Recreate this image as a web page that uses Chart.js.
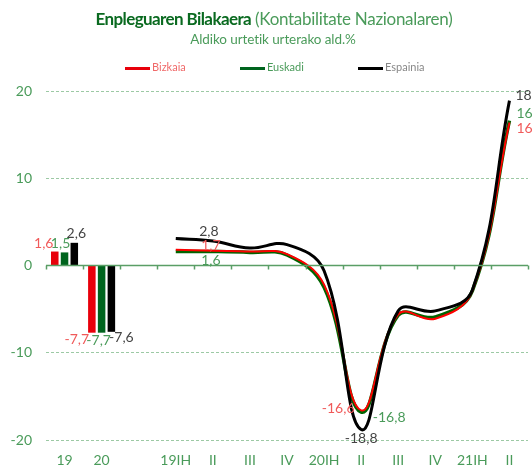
<!DOCTYPE html>
<html>
<head>
<meta charset="utf-8">
<script src="https://cdn.jsdelivr.net/npm/chart.js@4/dist/chart.umd.min.js"></script>
<style>
  body { margin: 0; background: #fff; font-family: 'Lato', sans-serif; }
  .wrap { position: relative; width: 532px; height: 467px; }
  canvas { position: absolute; left: 0; top: 0; }
  .title { position: absolute; top: 8px; left: 0; width: 548px; text-align: center; font-size: 17px; color: #4a9b5a; letter-spacing: -0.3px; white-space: nowrap; }
  .title b { color: #0a6a20; font-weight: 700; letter-spacing: -0.6px; }
  .sub { position: absolute; top: 31px; left: 0; width: 546px; text-align: center; font-size: 13.5px; color: #4a9b5a; letter-spacing: -0.1px; }
  .leg { position: absolute; top: 60px; font-size: 11px; white-space: nowrap; }
  .leg i { display: inline-block; width: 25px; height: 3px; vertical-align: middle; margin-right: 2px; }
</style>
</head>
<body>
<div class="wrap">
  <canvas id="chart" width="532" height="467"></canvas>
  <div class="title"><b>Enpleguaren Bilakaera</b> (Kontabilitate Nazionalaren)</div>
  <div class="sub">Aldiko urtetik urterako ald.%</div>
  <div class="leg" style="left:125px;color:#f06a6a"><i style="background:#e8000b"></i>Bizkaia</div>
  <div class="leg" style="left:240px;color:#4a9b5a"><i style="background:#00641e"></i>Euskadi</div>
  <div class="leg" style="left:358px;color:#888"><i style="background:#000"></i>Espainia</div>
</div>
<script>
// ── DATA ──
const years = ['19', '20'];
const quarters = ['19IH', 'II', 'III', 'IV', '20IH', 'II', 'III', 'IV', '21IH', 'II'];
const bizkaiaYear = [1.6, -7.7];
const euskadiYear = [1.5, -7.7];
const espainiaYear = [2.6, -7.6];
const bizkaiaQ = [1.8, 1.7, 1.6, 1.3, -2.2, -16.6, -5.6, -6.1, -2.9, 16.4];
const euskadiQ = [1.6, 1.6, 1.5, 1.2, -2.5, -16.8, -5.7, -5.9, -2.9, 16.6];
const espainiaQ = [3.1, 2.8, 2.0, 2.4, -0.6, -18.8, -5.2, -5.2, -2.8, 18.9];
const yTicks = [-20, -10, 0, 10, 20];

const labels = [...years, '', ...quarters];
const nY = years.length + 1;
const barData = arr => [...arr, ...Array(labels.length - arr.length).fill(null)];
const lineData = arr => [...Array(nY).fill(null), ...arr];

const RED = '#e8000b', GREEN = '#00641e', BLACK = '#000';
const axisGreen = '#4a9b5a';

// which data labels to show: dataset index, point index, offset, align
const labelSpots = [
  { ds: 0, i: 0, dx: -11, dy: -8, color: '#f05a5a' },
  { ds: 1, i: 0, dx: -4, dy: -9, color: axisGreen },
  { ds: 2, i: 0, dx: 2, dy: -9, color: '#444' },
  { ds: 0, i: 1, dx: -15, dy: 7, color: '#f05a5a' },
  { ds: 1, i: 1, dx: -3, dy: 8, color: axisGreen },
  { ds: 2, i: 1, dx: 10, dy: 6, color: '#444' },
  { ds: 5, i: 4, dx: -4, dy: -10, color: '#444' },
  { ds: 3, i: 4, dx: -2, dy: -5, color: '#f05a5a' },
  { ds: 4, i: 4, dx: -2, dy: 9, color: axisGreen },
  { ds: 3, i: 8, dx: -23, dy: -2, color: '#f05a5a' },
  { ds: 4, i: 8, dx: 28, dy: 5, color: axisGreen },
  { ds: 5, i: 8, dx: 0, dy: 9, color: '#444' },
  { ds: 5, i: 12, dx: 6, dy: -5, color: '#444', align: 'left' },
  { ds: 4, i: 12, dx: 7, dy: -7, color: axisGreen, align: 'left' },
  { ds: 3, i: 12, dx: 7, dy: 6, color: '#f05a5a', align: 'left' },
];

const fmt = v => v.toFixed(1).replace('.', ',');

const extras = {
  id: 'extras',
  afterDatasetsDraw(chart) {
    const { ctx, chartArea, scales } = chart;
    const y0 = scales.y.getPixelForValue(0);
    ctx.save();
    // zero line with small ticks at category boundaries
    ctx.strokeStyle = '#5a9e66';
    ctx.lineWidth = 1.5;
    ctx.beginPath();
    ctx.moveTo(chartArea.left, y0);
    ctx.lineTo(chartArea.right, y0);
    const step = (chartArea.right - chartArea.left) / labels.length;
    for (let k = 0; k <= labels.length; k++) {
      const x = Math.round(chartArea.left + k * step) + 0.5;
      ctx.moveTo(x, y0);
      ctx.lineTo(x, y0 + 4);
    }
    ctx.stroke();
    // data labels
    ctx.font = '14px Lato';
    ctx.textBaseline = 'middle';
    labelSpots.forEach(s => {
      const el = chart.getDatasetMeta(s.ds).data[s.i];
      const v = chart.data.datasets[s.ds].data[s.i];
      if (!el || v == null) return;
      ctx.fillStyle = s.color;
      ctx.textAlign = s.align || 'center';
      ctx.fillText(fmt(v), el.x + s.dx, el.y + s.dy);
    });
    ctx.restore();
  }
};

new Chart(document.getElementById('chart'), {
  data: {
    labels,
    datasets: [
      { type: 'bar', label: 'Bizkaia', data: barData(bizkaiaYear), backgroundColor: RED, order: 1 },
      { type: 'bar', label: 'Euskadi', data: barData(euskadiYear), backgroundColor: GREEN, order: 1 },
      { type: 'bar', label: 'Espainia', data: barData(espainiaYear), backgroundColor: BLACK, order: 1 },
      { type: 'line', label: 'Bizkaia', data: lineData(bizkaiaQ), borderColor: '#ff0000', borderWidth: 2, tension: 0.4, pointRadius: 0, order: 1 },
      { type: 'line', label: 'Euskadi', data: lineData(euskadiQ), borderColor: '#006400', borderWidth: 3.5, tension: 0.4, pointRadius: 0, order: 2 },
      { type: 'line', label: 'Espainia', data: lineData(espainiaQ), borderColor: BLACK, borderWidth: 3, tension: 0.4, pointRadius: 0, order: 0 },
    ]
  },
  options: {
    responsive: false,
    animation: false,
    devicePixelRatio: 1,
    layout: { padding: { top: 91, right: 4, left: 0, bottom: 0 } },
    datasets: { bar: { categoryPercentage: 0.79, barPercentage: 0.77 } },
    plugins: { legend: { display: false }, tooltip: { enabled: false } },
    scales: {
      x: {
        grid: { display: false, drawTicks: false },
        border: { display: false },
        ticks: { color: axisGreen, font: { family: 'Lato', size: 14 }, padding: 12, maxRotation: 0, autoSkip: false },
        afterFit: s => { s.height = 27; }
      },
      y: {
        min: -20, max: 20,
        afterBuildTicks: s => { s.ticks = yTicks.map(value => ({ value })); },
        grid: { color: c => c.tick.value === 0 ? 'transparent' : '#9cc9a4', drawTicks: false, lineWidth: 1 },
        border: { display: false, dash: [3, 2] },
        ticks: { color: axisGreen, font: { family: 'Lato', size: 14 }, padding: 14 },
        afterFit: s => { s.width = 46; }
      }
    }
  },
  plugins: [extras]
});
</script>
</body>
</html>
